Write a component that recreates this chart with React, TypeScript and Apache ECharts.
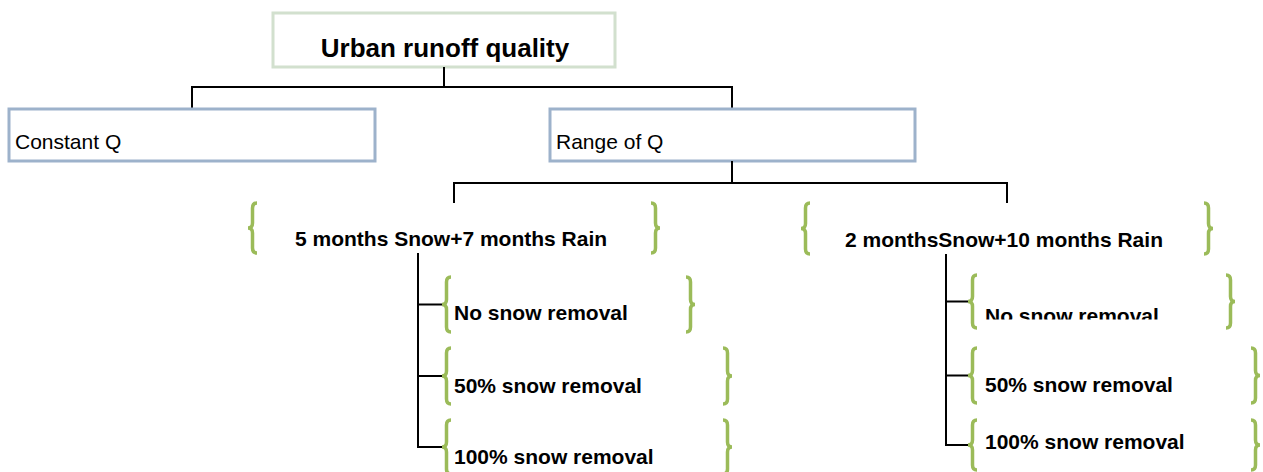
import React, { useEffect, useRef } from "react";
import * as echarts from "echarts";

// ---- Diagram content ----
const rootLabel = "Urban runoff quality";
const flowLabels = ["Constant Q", "Range of Q"];
const scenarioLabels = ["5 months Snow+7 months Rain", "2 monthsSnow+10 months Rain"];
const removalLabels = ["No snow removal", "50% snow removal", "100% snow removal"];

// ---- Layout (pixels) ----
const W = 1263;
const H = 472;
const FONT = "'Liberation Sans', Arial, Helvetica, sans-serif";
const LINE = "#000000";
const GREEN = "#9bbb59";
const BLUE_BORDER = "#9db2cb";
const ROOT_BORDER = "#d2e0ce";

const rootBox = { x: 273, y: 13, w: 342, h: 54 };
const flowBoxes = [
  { x: 9, y: 109, w: 366, h: 52, textX: 15 },
  { x: 550, y: 109, w: 365, h: 52, textX: 556 },
];
const flowDropX = [192, 732];
const scenarioLayout = [
  { dropX: 454, textX: 295, textY: 238, braceL: 248, braceR: 660, top: 203, bottom: 253, stemX: 418, subBraceL: 442, stemEnd: 447, textOff: 12 },
  { dropX: 1007, textX: 845, textY: 239, braceL: 801, braceR: 1213, top: 203, bottom: 254, stemX: 946, subBraceL: 968, stemEnd: 445, textOff: 17 },
];
const subLayout = [
  [
    { top: 277, bottom: 332, textY: 312, braceR: 695 },
    { top: 348, bottom: 404, textY: 385, braceR: 732 },
    { top: 420, bottom: 474, textY: 456, braceR: 732 },
  ],
  [
    { top: 275, bottom: 328, textY: 315, braceR: 1235 },
    { top: 348, bottom: 403, textY: 384, braceR: 1260 },
    { top: 420, bottom: 474, textY: 441, braceR: 1260 },
  ],
];

echarts.graphic.registerShape(
  "brace",
  (echarts.graphic as any).extendShape({
    type: "brace",
    shape: { x: 0, y0: 0, y1: 0, dir: 1, w: 5 },
    buildPath(ctx: any, s: any) {
      // dir = 1: left brace (tip points left), dir = -1: right brace (tip right)
      const d = s.dir;
      const tip = s.x;
      const body = s.x + d * s.w;
      const end = s.x + d * s.w * 2;
      const ym = (s.y0 + s.y1) / 2;
      const r = 5;
      ctx.moveTo(end, s.y0);
      ctx.quadraticCurveTo(body, s.y0, body, s.y0 + r);
      ctx.lineTo(body, ym - r);
      ctx.quadraticCurveTo(body, ym, tip, ym);
      ctx.quadraticCurveTo(body, ym, body, ym + r);
      ctx.lineTo(body, s.y1 - r);
      ctx.quadraticCurveTo(body, s.y1, end, s.y1);
    },
  })
);

function line(x1: number, y1: number, x2: number, y2: number) {
  return {
    type: "line",
    shape: { x1, y1, x2, y2 },
    style: { stroke: LINE, lineWidth: 2 },
    silent: true,
  };
}

function brace(x: number, y0: number, y1: number, dir: number) {
  return {
    type: "brace",
    shape: { x, y0, y1, dir, w: 4.5 },
    style: { stroke: GREEN, lineWidth: 3.5, fill: "none" },
    silent: true,
  };
}

function text(t: string, x: number, y: number, size: number, bold: boolean, align = "left") {
  return {
    type: "text",
    x,
    y,
    style: {
      text: t,
      fill: "#000",
      font: `${bold ? "bold " : ""}${size}px ${FONT}`,
      align,
      verticalAlign: "middle",
    },
    silent: true,
  };
}

function buildElements() {
  const els: any[] = [];
  // root box
  els.push({
    type: "rect",
    shape: { x: rootBox.x, y: rootBox.y, width: rootBox.w, height: rootBox.h },
    style: { fill: "#fff", stroke: ROOT_BORDER, lineWidth: 3 },
  });
  els.push(text(rootLabel, 445, 48, 26, true, "center"));
  // root connectors
  const rootCx = 444;
  els.push(line(rootCx, rootBox.y + rootBox.h, rootCx, 87));
  els.push(line(flowDropX[0] - 1, 87, flowDropX[1] + 1, 87));
  flowDropX.forEach((x) => els.push(line(x, 87, x, 109)));
  // flow boxes
  flowBoxes.forEach((b, i) => {
    els.push({
      type: "rect",
      shape: { x: b.x, y: b.y, width: b.w, height: b.h },
      style: { fill: "#fff", stroke: BLUE_BORDER, lineWidth: 3 },
    });
    els.push(text(flowLabels[i], b.textX, 141, 21, false));
  });
  // Range of Q connectors
  els.push(line(732, 161, 732, 183));
  els.push(line(scenarioLayout[0].dropX - 1, 183, scenarioLayout[1].dropX + 1, 183));
  scenarioLayout.forEach((s) => els.push(line(s.dropX, 183, s.dropX, 203)));
  // scenarios
  scenarioLayout.forEach((s, i) => {
    els.push(brace(s.braceL, s.top, s.bottom, 1));
    els.push(brace(s.braceR, s.top, s.bottom, -1));
    els.push(text(scenarioLabels[i], s.textX, s.textY, 21, true));
    const subs = subLayout[i];
    els.push(line(s.stemX, s.bottom, s.stemX, s.stemEnd));
    subs.forEach((sb, j) => {
      const last = j === subs.length - 1;
      const mid = last ? s.stemEnd : (sb.top + sb.bottom) / 2;
      els.push(line(s.stemX - 1, mid, s.subBraceL, mid));
      const top = sb.top;
      const bottom = last ? 2 * mid - top : sb.bottom;
      els.push(brace(s.subBraceL, top, bottom, 1));
      els.push(brace(sb.braceR, top, bottom, -1));
      els.push(text(removalLabels[j], s.subBraceL + s.textOff, sb.textY, 21, true));
    });
  });
  // the right-hand "No snow removal" label is clipped at its bottom in the original
  els.push({
    type: "rect",
    shape: { x: 980, y: 319.5, width: 240, height: 8 },
    style: { fill: "#fff" },
    silent: true,
  });
  return els;
}

export default function App() {
  const ref = useRef<HTMLDivElement>(null);
  useEffect(() => {
    if (!ref.current) return;
    const chart = echarts.init(ref.current, undefined, { renderer: "svg" });
    chart.setOption({
      animation: false,
      backgroundColor: "#ffffff",
      graphic: { elements: buildElements() },
    });
    return () => chart.dispose();
  }, []);
  return (
    <div
      ref={ref}
      style={{ position: "fixed", left: 0, top: 0, width: W, height: H, background: "#fff" }}
    />
  );
}
